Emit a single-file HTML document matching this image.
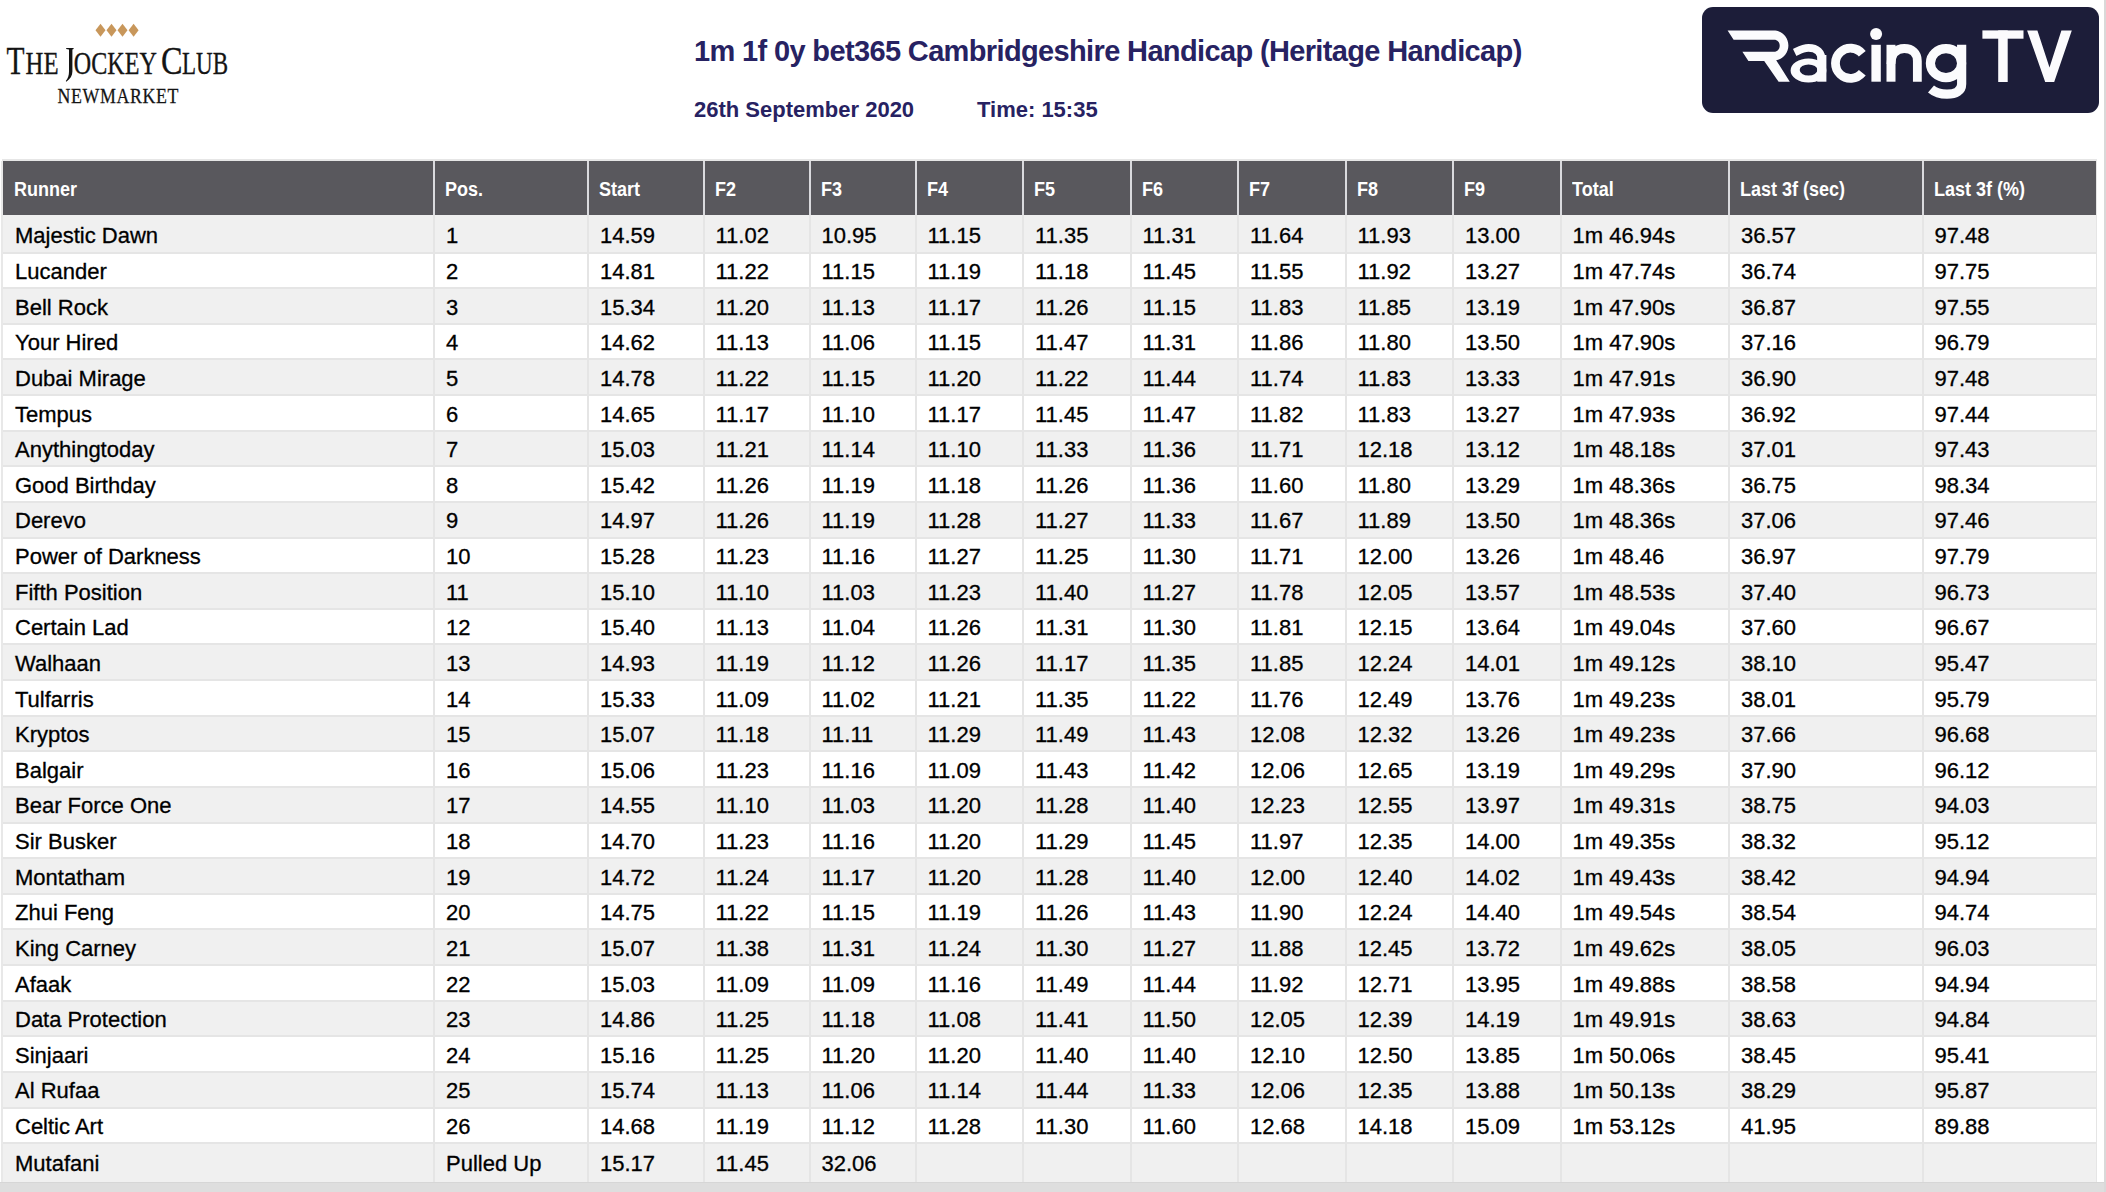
<!DOCTYPE html><html><head><meta charset="utf-8"><title>Sectional Times</title><style>
*{margin:0;padding:0;box-sizing:border-box}
html,body{width:2106px;height:1192px;overflow:hidden;background:#fff}
body{position:relative;font-family:"Liberation Sans",sans-serif;color:#000}
.a{position:absolute}
.hd{position:absolute;top:161px;height:54px;background:#59585d}
.ht{position:absolute;top:0px;color:#fff;font-weight:bold;font-size:20px;line-height:20px;white-space:nowrap;transform:scaleX(0.9);transform-origin:0 0}
.row{position:absolute;left:3px;width:2093px}
.g{background:#f0f0f0}
.w{background:#fff}
.hl{position:absolute;left:3px;width:2093px;height:2px;background:#e5e5e5}
.vl{position:absolute;width:2px;background:#e5e5e5}
.vh{position:absolute;width:2px;background:#ececec}
.c{position:absolute;font-size:22px;line-height:22px;white-space:nowrap;-webkit-text-stroke:0.3px #000}
</style></head><body>
<div class="hd" style="left:3.0px;width:430.0px"></div>
<div class="ht" style="left:14.4px;top:179px">Runner</div>
<div class="hd" style="left:435.0px;width:152.0px"></div>
<div class="ht" style="left:445.4px;top:179px">Pos.</div>
<div class="hd" style="left:589.0px;width:113.5px"></div>
<div class="ht" style="left:599.4px;top:179px">Start</div>
<div class="hd" style="left:704.5px;width:104.0px"></div>
<div class="ht" style="left:714.9px;top:179px">F2</div>
<div class="hd" style="left:810.5px;width:104.0px"></div>
<div class="ht" style="left:820.9px;top:179px">F3</div>
<div class="hd" style="left:916.5px;width:105.5px"></div>
<div class="ht" style="left:926.9px;top:179px">F4</div>
<div class="hd" style="left:1024.0px;width:105.5px"></div>
<div class="ht" style="left:1034.4px;top:179px">F5</div>
<div class="hd" style="left:1131.5px;width:105.5px"></div>
<div class="ht" style="left:1141.9px;top:179px">F6</div>
<div class="hd" style="left:1239.0px;width:105.5px"></div>
<div class="ht" style="left:1249.4px;top:179px">F7</div>
<div class="hd" style="left:1346.5px;width:105.5px"></div>
<div class="ht" style="left:1356.9px;top:179px">F8</div>
<div class="hd" style="left:1454.0px;width:105.5px"></div>
<div class="ht" style="left:1464.4px;top:179px">F9</div>
<div class="hd" style="left:1561.5px;width:166.5px"></div>
<div class="ht" style="left:1571.9px;top:179px">Total</div>
<div class="hd" style="left:1730.0px;width:191.5px"></div>
<div class="ht" style="left:1740.4px;top:179px">Last 3f (sec)</div>
<div class="hd" style="left:1923.5px;width:172.5px"></div>
<div class="ht" style="left:1933.9px;top:179px">Last 3f (%)</div>
<div class="a" style="left:2.0px;top:159px;width:2095.0px;height:2px;background:#e6e6e6"></div>
<div class="a" style="left:433.0px;top:161px;width:2px;height:54px;background:#dadade"></div>
<div class="a" style="left:587.0px;top:161px;width:2px;height:54px;background:#dadade"></div>
<div class="a" style="left:702.5px;top:161px;width:2px;height:54px;background:#dadade"></div>
<div class="a" style="left:808.5px;top:161px;width:2px;height:54px;background:#dadade"></div>
<div class="a" style="left:914.5px;top:161px;width:2px;height:54px;background:#dadade"></div>
<div class="a" style="left:1022.0px;top:161px;width:2px;height:54px;background:#dadade"></div>
<div class="a" style="left:1129.5px;top:161px;width:2px;height:54px;background:#dadade"></div>
<div class="a" style="left:1237.0px;top:161px;width:2px;height:54px;background:#dadade"></div>
<div class="a" style="left:1344.5px;top:161px;width:2px;height:54px;background:#dadade"></div>
<div class="a" style="left:1452.0px;top:161px;width:2px;height:54px;background:#dadade"></div>
<div class="a" style="left:1559.5px;top:161px;width:2px;height:54px;background:#dadade"></div>
<div class="a" style="left:1728.0px;top:161px;width:2px;height:54px;background:#dadade"></div>
<div class="a" style="left:1921.5px;top:161px;width:2px;height:54px;background:#dadade"></div>
<div class="row g" style="top:215.00px;height:37.50px"></div>
<div class="c" style="left:15.0px;top:225.00px">Majestic Dawn</div>
<div class="c" style="left:446.0px;top:225.00px">1</div>
<div class="c" style="left:600.0px;top:225.00px">14.59</div>
<div class="c" style="left:715.5px;top:225.00px">11.02</div>
<div class="c" style="left:821.5px;top:225.00px">10.95</div>
<div class="c" style="left:927.5px;top:225.00px">11.15</div>
<div class="c" style="left:1035.0px;top:225.00px">11.35</div>
<div class="c" style="left:1142.5px;top:225.00px">11.31</div>
<div class="c" style="left:1250.0px;top:225.00px">11.64</div>
<div class="c" style="left:1357.5px;top:225.00px">11.93</div>
<div class="c" style="left:1465.0px;top:225.00px">13.00</div>
<div class="c" style="left:1572.5px;top:225.00px">1m 46.94s</div>
<div class="c" style="left:1741.0px;top:225.00px">36.57</div>
<div class="c" style="left:1934.5px;top:225.00px">97.48</div>
<div class="row w" style="top:252.50px;height:35.63px"></div>
<div class="hl" style="top:251.50px"></div>
<div class="c" style="left:15.0px;top:261.00px">Lucander</div>
<div class="c" style="left:446.0px;top:261.00px">2</div>
<div class="c" style="left:600.0px;top:261.00px">14.81</div>
<div class="c" style="left:715.5px;top:261.00px">11.22</div>
<div class="c" style="left:821.5px;top:261.00px">11.15</div>
<div class="c" style="left:927.5px;top:261.00px">11.19</div>
<div class="c" style="left:1035.0px;top:261.00px">11.18</div>
<div class="c" style="left:1142.5px;top:261.00px">11.45</div>
<div class="c" style="left:1250.0px;top:261.00px">11.55</div>
<div class="c" style="left:1357.5px;top:261.00px">11.92</div>
<div class="c" style="left:1465.0px;top:261.00px">13.27</div>
<div class="c" style="left:1572.5px;top:261.00px">1m 47.74s</div>
<div class="c" style="left:1741.0px;top:261.00px">36.74</div>
<div class="c" style="left:1934.5px;top:261.00px">97.75</div>
<div class="row g" style="top:288.13px;height:35.63px"></div>
<div class="hl" style="top:287.13px"></div>
<div class="c" style="left:15.0px;top:296.63px">Bell Rock</div>
<div class="c" style="left:446.0px;top:296.63px">3</div>
<div class="c" style="left:600.0px;top:296.63px">15.34</div>
<div class="c" style="left:715.5px;top:296.63px">11.20</div>
<div class="c" style="left:821.5px;top:296.63px">11.13</div>
<div class="c" style="left:927.5px;top:296.63px">11.17</div>
<div class="c" style="left:1035.0px;top:296.63px">11.26</div>
<div class="c" style="left:1142.5px;top:296.63px">11.15</div>
<div class="c" style="left:1250.0px;top:296.63px">11.83</div>
<div class="c" style="left:1357.5px;top:296.63px">11.85</div>
<div class="c" style="left:1465.0px;top:296.63px">13.19</div>
<div class="c" style="left:1572.5px;top:296.63px">1m 47.90s</div>
<div class="c" style="left:1741.0px;top:296.63px">36.87</div>
<div class="c" style="left:1934.5px;top:296.63px">97.55</div>
<div class="row w" style="top:323.76px;height:35.63px"></div>
<div class="hl" style="top:322.76px"></div>
<div class="c" style="left:15.0px;top:332.26px">Your Hired</div>
<div class="c" style="left:446.0px;top:332.26px">4</div>
<div class="c" style="left:600.0px;top:332.26px">14.62</div>
<div class="c" style="left:715.5px;top:332.26px">11.13</div>
<div class="c" style="left:821.5px;top:332.26px">11.06</div>
<div class="c" style="left:927.5px;top:332.26px">11.15</div>
<div class="c" style="left:1035.0px;top:332.26px">11.47</div>
<div class="c" style="left:1142.5px;top:332.26px">11.31</div>
<div class="c" style="left:1250.0px;top:332.26px">11.86</div>
<div class="c" style="left:1357.5px;top:332.26px">11.80</div>
<div class="c" style="left:1465.0px;top:332.26px">13.50</div>
<div class="c" style="left:1572.5px;top:332.26px">1m 47.90s</div>
<div class="c" style="left:1741.0px;top:332.26px">37.16</div>
<div class="c" style="left:1934.5px;top:332.26px">96.79</div>
<div class="row g" style="top:359.39px;height:35.63px"></div>
<div class="hl" style="top:358.39px"></div>
<div class="c" style="left:15.0px;top:367.89px">Dubai Mirage</div>
<div class="c" style="left:446.0px;top:367.89px">5</div>
<div class="c" style="left:600.0px;top:367.89px">14.78</div>
<div class="c" style="left:715.5px;top:367.89px">11.22</div>
<div class="c" style="left:821.5px;top:367.89px">11.15</div>
<div class="c" style="left:927.5px;top:367.89px">11.20</div>
<div class="c" style="left:1035.0px;top:367.89px">11.22</div>
<div class="c" style="left:1142.5px;top:367.89px">11.44</div>
<div class="c" style="left:1250.0px;top:367.89px">11.74</div>
<div class="c" style="left:1357.5px;top:367.89px">11.83</div>
<div class="c" style="left:1465.0px;top:367.89px">13.33</div>
<div class="c" style="left:1572.5px;top:367.89px">1m 47.91s</div>
<div class="c" style="left:1741.0px;top:367.89px">36.90</div>
<div class="c" style="left:1934.5px;top:367.89px">97.48</div>
<div class="row w" style="top:395.02px;height:35.63px"></div>
<div class="hl" style="top:394.02px"></div>
<div class="c" style="left:15.0px;top:403.52px">Tempus</div>
<div class="c" style="left:446.0px;top:403.52px">6</div>
<div class="c" style="left:600.0px;top:403.52px">14.65</div>
<div class="c" style="left:715.5px;top:403.52px">11.17</div>
<div class="c" style="left:821.5px;top:403.52px">11.10</div>
<div class="c" style="left:927.5px;top:403.52px">11.17</div>
<div class="c" style="left:1035.0px;top:403.52px">11.45</div>
<div class="c" style="left:1142.5px;top:403.52px">11.47</div>
<div class="c" style="left:1250.0px;top:403.52px">11.82</div>
<div class="c" style="left:1357.5px;top:403.52px">11.83</div>
<div class="c" style="left:1465.0px;top:403.52px">13.27</div>
<div class="c" style="left:1572.5px;top:403.52px">1m 47.93s</div>
<div class="c" style="left:1741.0px;top:403.52px">36.92</div>
<div class="c" style="left:1934.5px;top:403.52px">97.44</div>
<div class="row g" style="top:430.65px;height:35.63px"></div>
<div class="hl" style="top:429.65px"></div>
<div class="c" style="left:15.0px;top:439.15px">Anythingtoday</div>
<div class="c" style="left:446.0px;top:439.15px">7</div>
<div class="c" style="left:600.0px;top:439.15px">15.03</div>
<div class="c" style="left:715.5px;top:439.15px">11.21</div>
<div class="c" style="left:821.5px;top:439.15px">11.14</div>
<div class="c" style="left:927.5px;top:439.15px">11.10</div>
<div class="c" style="left:1035.0px;top:439.15px">11.33</div>
<div class="c" style="left:1142.5px;top:439.15px">11.36</div>
<div class="c" style="left:1250.0px;top:439.15px">11.71</div>
<div class="c" style="left:1357.5px;top:439.15px">12.18</div>
<div class="c" style="left:1465.0px;top:439.15px">13.12</div>
<div class="c" style="left:1572.5px;top:439.15px">1m 48.18s</div>
<div class="c" style="left:1741.0px;top:439.15px">37.01</div>
<div class="c" style="left:1934.5px;top:439.15px">97.43</div>
<div class="row w" style="top:466.28px;height:35.63px"></div>
<div class="hl" style="top:465.28px"></div>
<div class="c" style="left:15.0px;top:474.78px">Good Birthday</div>
<div class="c" style="left:446.0px;top:474.78px">8</div>
<div class="c" style="left:600.0px;top:474.78px">15.42</div>
<div class="c" style="left:715.5px;top:474.78px">11.26</div>
<div class="c" style="left:821.5px;top:474.78px">11.19</div>
<div class="c" style="left:927.5px;top:474.78px">11.18</div>
<div class="c" style="left:1035.0px;top:474.78px">11.26</div>
<div class="c" style="left:1142.5px;top:474.78px">11.36</div>
<div class="c" style="left:1250.0px;top:474.78px">11.60</div>
<div class="c" style="left:1357.5px;top:474.78px">11.80</div>
<div class="c" style="left:1465.0px;top:474.78px">13.29</div>
<div class="c" style="left:1572.5px;top:474.78px">1m 48.36s</div>
<div class="c" style="left:1741.0px;top:474.78px">36.75</div>
<div class="c" style="left:1934.5px;top:474.78px">98.34</div>
<div class="row g" style="top:501.91px;height:35.63px"></div>
<div class="hl" style="top:500.91px"></div>
<div class="c" style="left:15.0px;top:510.41px">Derevo</div>
<div class="c" style="left:446.0px;top:510.41px">9</div>
<div class="c" style="left:600.0px;top:510.41px">14.97</div>
<div class="c" style="left:715.5px;top:510.41px">11.26</div>
<div class="c" style="left:821.5px;top:510.41px">11.19</div>
<div class="c" style="left:927.5px;top:510.41px">11.28</div>
<div class="c" style="left:1035.0px;top:510.41px">11.27</div>
<div class="c" style="left:1142.5px;top:510.41px">11.33</div>
<div class="c" style="left:1250.0px;top:510.41px">11.67</div>
<div class="c" style="left:1357.5px;top:510.41px">11.89</div>
<div class="c" style="left:1465.0px;top:510.41px">13.50</div>
<div class="c" style="left:1572.5px;top:510.41px">1m 48.36s</div>
<div class="c" style="left:1741.0px;top:510.41px">37.06</div>
<div class="c" style="left:1934.5px;top:510.41px">97.46</div>
<div class="row w" style="top:537.54px;height:35.63px"></div>
<div class="hl" style="top:536.54px"></div>
<div class="c" style="left:15.0px;top:546.04px">Power of Darkness</div>
<div class="c" style="left:446.0px;top:546.04px">10</div>
<div class="c" style="left:600.0px;top:546.04px">15.28</div>
<div class="c" style="left:715.5px;top:546.04px">11.23</div>
<div class="c" style="left:821.5px;top:546.04px">11.16</div>
<div class="c" style="left:927.5px;top:546.04px">11.27</div>
<div class="c" style="left:1035.0px;top:546.04px">11.25</div>
<div class="c" style="left:1142.5px;top:546.04px">11.30</div>
<div class="c" style="left:1250.0px;top:546.04px">11.71</div>
<div class="c" style="left:1357.5px;top:546.04px">12.00</div>
<div class="c" style="left:1465.0px;top:546.04px">13.26</div>
<div class="c" style="left:1572.5px;top:546.04px">1m 48.46</div>
<div class="c" style="left:1741.0px;top:546.04px">36.97</div>
<div class="c" style="left:1934.5px;top:546.04px">97.79</div>
<div class="row g" style="top:573.17px;height:35.63px"></div>
<div class="hl" style="top:572.17px"></div>
<div class="c" style="left:15.0px;top:581.67px">Fifth Position</div>
<div class="c" style="left:446.0px;top:581.67px">11</div>
<div class="c" style="left:600.0px;top:581.67px">15.10</div>
<div class="c" style="left:715.5px;top:581.67px">11.10</div>
<div class="c" style="left:821.5px;top:581.67px">11.03</div>
<div class="c" style="left:927.5px;top:581.67px">11.23</div>
<div class="c" style="left:1035.0px;top:581.67px">11.40</div>
<div class="c" style="left:1142.5px;top:581.67px">11.27</div>
<div class="c" style="left:1250.0px;top:581.67px">11.78</div>
<div class="c" style="left:1357.5px;top:581.67px">12.05</div>
<div class="c" style="left:1465.0px;top:581.67px">13.57</div>
<div class="c" style="left:1572.5px;top:581.67px">1m 48.53s</div>
<div class="c" style="left:1741.0px;top:581.67px">37.40</div>
<div class="c" style="left:1934.5px;top:581.67px">96.73</div>
<div class="row w" style="top:608.80px;height:35.63px"></div>
<div class="hl" style="top:607.80px"></div>
<div class="c" style="left:15.0px;top:617.30px">Certain Lad</div>
<div class="c" style="left:446.0px;top:617.30px">12</div>
<div class="c" style="left:600.0px;top:617.30px">15.40</div>
<div class="c" style="left:715.5px;top:617.30px">11.13</div>
<div class="c" style="left:821.5px;top:617.30px">11.04</div>
<div class="c" style="left:927.5px;top:617.30px">11.26</div>
<div class="c" style="left:1035.0px;top:617.30px">11.31</div>
<div class="c" style="left:1142.5px;top:617.30px">11.30</div>
<div class="c" style="left:1250.0px;top:617.30px">11.81</div>
<div class="c" style="left:1357.5px;top:617.30px">12.15</div>
<div class="c" style="left:1465.0px;top:617.30px">13.64</div>
<div class="c" style="left:1572.5px;top:617.30px">1m 49.04s</div>
<div class="c" style="left:1741.0px;top:617.30px">37.60</div>
<div class="c" style="left:1934.5px;top:617.30px">96.67</div>
<div class="row g" style="top:644.43px;height:35.63px"></div>
<div class="hl" style="top:643.43px"></div>
<div class="c" style="left:15.0px;top:652.93px">Walhaan</div>
<div class="c" style="left:446.0px;top:652.93px">13</div>
<div class="c" style="left:600.0px;top:652.93px">14.93</div>
<div class="c" style="left:715.5px;top:652.93px">11.19</div>
<div class="c" style="left:821.5px;top:652.93px">11.12</div>
<div class="c" style="left:927.5px;top:652.93px">11.26</div>
<div class="c" style="left:1035.0px;top:652.93px">11.17</div>
<div class="c" style="left:1142.5px;top:652.93px">11.35</div>
<div class="c" style="left:1250.0px;top:652.93px">11.85</div>
<div class="c" style="left:1357.5px;top:652.93px">12.24</div>
<div class="c" style="left:1465.0px;top:652.93px">14.01</div>
<div class="c" style="left:1572.5px;top:652.93px">1m 49.12s</div>
<div class="c" style="left:1741.0px;top:652.93px">38.10</div>
<div class="c" style="left:1934.5px;top:652.93px">95.47</div>
<div class="row w" style="top:680.06px;height:35.63px"></div>
<div class="hl" style="top:679.06px"></div>
<div class="c" style="left:15.0px;top:688.56px">Tulfarris</div>
<div class="c" style="left:446.0px;top:688.56px">14</div>
<div class="c" style="left:600.0px;top:688.56px">15.33</div>
<div class="c" style="left:715.5px;top:688.56px">11.09</div>
<div class="c" style="left:821.5px;top:688.56px">11.02</div>
<div class="c" style="left:927.5px;top:688.56px">11.21</div>
<div class="c" style="left:1035.0px;top:688.56px">11.35</div>
<div class="c" style="left:1142.5px;top:688.56px">11.22</div>
<div class="c" style="left:1250.0px;top:688.56px">11.76</div>
<div class="c" style="left:1357.5px;top:688.56px">12.49</div>
<div class="c" style="left:1465.0px;top:688.56px">13.76</div>
<div class="c" style="left:1572.5px;top:688.56px">1m 49.23s</div>
<div class="c" style="left:1741.0px;top:688.56px">38.01</div>
<div class="c" style="left:1934.5px;top:688.56px">95.79</div>
<div class="row g" style="top:715.69px;height:35.63px"></div>
<div class="hl" style="top:714.69px"></div>
<div class="c" style="left:15.0px;top:724.19px">Kryptos</div>
<div class="c" style="left:446.0px;top:724.19px">15</div>
<div class="c" style="left:600.0px;top:724.19px">15.07</div>
<div class="c" style="left:715.5px;top:724.19px">11.18</div>
<div class="c" style="left:821.5px;top:724.19px">11.11</div>
<div class="c" style="left:927.5px;top:724.19px">11.29</div>
<div class="c" style="left:1035.0px;top:724.19px">11.49</div>
<div class="c" style="left:1142.5px;top:724.19px">11.43</div>
<div class="c" style="left:1250.0px;top:724.19px">12.08</div>
<div class="c" style="left:1357.5px;top:724.19px">12.32</div>
<div class="c" style="left:1465.0px;top:724.19px">13.26</div>
<div class="c" style="left:1572.5px;top:724.19px">1m 49.23s</div>
<div class="c" style="left:1741.0px;top:724.19px">37.66</div>
<div class="c" style="left:1934.5px;top:724.19px">96.68</div>
<div class="row w" style="top:751.32px;height:35.63px"></div>
<div class="hl" style="top:750.32px"></div>
<div class="c" style="left:15.0px;top:759.82px">Balgair</div>
<div class="c" style="left:446.0px;top:759.82px">16</div>
<div class="c" style="left:600.0px;top:759.82px">15.06</div>
<div class="c" style="left:715.5px;top:759.82px">11.23</div>
<div class="c" style="left:821.5px;top:759.82px">11.16</div>
<div class="c" style="left:927.5px;top:759.82px">11.09</div>
<div class="c" style="left:1035.0px;top:759.82px">11.43</div>
<div class="c" style="left:1142.5px;top:759.82px">11.42</div>
<div class="c" style="left:1250.0px;top:759.82px">12.06</div>
<div class="c" style="left:1357.5px;top:759.82px">12.65</div>
<div class="c" style="left:1465.0px;top:759.82px">13.19</div>
<div class="c" style="left:1572.5px;top:759.82px">1m 49.29s</div>
<div class="c" style="left:1741.0px;top:759.82px">37.90</div>
<div class="c" style="left:1934.5px;top:759.82px">96.12</div>
<div class="row g" style="top:786.95px;height:35.63px"></div>
<div class="hl" style="top:785.95px"></div>
<div class="c" style="left:15.0px;top:795.45px">Bear Force One</div>
<div class="c" style="left:446.0px;top:795.45px">17</div>
<div class="c" style="left:600.0px;top:795.45px">14.55</div>
<div class="c" style="left:715.5px;top:795.45px">11.10</div>
<div class="c" style="left:821.5px;top:795.45px">11.03</div>
<div class="c" style="left:927.5px;top:795.45px">11.20</div>
<div class="c" style="left:1035.0px;top:795.45px">11.28</div>
<div class="c" style="left:1142.5px;top:795.45px">11.40</div>
<div class="c" style="left:1250.0px;top:795.45px">12.23</div>
<div class="c" style="left:1357.5px;top:795.45px">12.55</div>
<div class="c" style="left:1465.0px;top:795.45px">13.97</div>
<div class="c" style="left:1572.5px;top:795.45px">1m 49.31s</div>
<div class="c" style="left:1741.0px;top:795.45px">38.75</div>
<div class="c" style="left:1934.5px;top:795.45px">94.03</div>
<div class="row w" style="top:822.58px;height:35.63px"></div>
<div class="hl" style="top:821.58px"></div>
<div class="c" style="left:15.0px;top:831.08px">Sir Busker</div>
<div class="c" style="left:446.0px;top:831.08px">18</div>
<div class="c" style="left:600.0px;top:831.08px">14.70</div>
<div class="c" style="left:715.5px;top:831.08px">11.23</div>
<div class="c" style="left:821.5px;top:831.08px">11.16</div>
<div class="c" style="left:927.5px;top:831.08px">11.20</div>
<div class="c" style="left:1035.0px;top:831.08px">11.29</div>
<div class="c" style="left:1142.5px;top:831.08px">11.45</div>
<div class="c" style="left:1250.0px;top:831.08px">11.97</div>
<div class="c" style="left:1357.5px;top:831.08px">12.35</div>
<div class="c" style="left:1465.0px;top:831.08px">14.00</div>
<div class="c" style="left:1572.5px;top:831.08px">1m 49.35s</div>
<div class="c" style="left:1741.0px;top:831.08px">38.32</div>
<div class="c" style="left:1934.5px;top:831.08px">95.12</div>
<div class="row g" style="top:858.21px;height:35.63px"></div>
<div class="hl" style="top:857.21px"></div>
<div class="c" style="left:15.0px;top:866.71px">Montatham</div>
<div class="c" style="left:446.0px;top:866.71px">19</div>
<div class="c" style="left:600.0px;top:866.71px">14.72</div>
<div class="c" style="left:715.5px;top:866.71px">11.24</div>
<div class="c" style="left:821.5px;top:866.71px">11.17</div>
<div class="c" style="left:927.5px;top:866.71px">11.20</div>
<div class="c" style="left:1035.0px;top:866.71px">11.28</div>
<div class="c" style="left:1142.5px;top:866.71px">11.40</div>
<div class="c" style="left:1250.0px;top:866.71px">12.00</div>
<div class="c" style="left:1357.5px;top:866.71px">12.40</div>
<div class="c" style="left:1465.0px;top:866.71px">14.02</div>
<div class="c" style="left:1572.5px;top:866.71px">1m 49.43s</div>
<div class="c" style="left:1741.0px;top:866.71px">38.42</div>
<div class="c" style="left:1934.5px;top:866.71px">94.94</div>
<div class="row w" style="top:893.84px;height:35.63px"></div>
<div class="hl" style="top:892.84px"></div>
<div class="c" style="left:15.0px;top:902.34px">Zhui Feng</div>
<div class="c" style="left:446.0px;top:902.34px">20</div>
<div class="c" style="left:600.0px;top:902.34px">14.75</div>
<div class="c" style="left:715.5px;top:902.34px">11.22</div>
<div class="c" style="left:821.5px;top:902.34px">11.15</div>
<div class="c" style="left:927.5px;top:902.34px">11.19</div>
<div class="c" style="left:1035.0px;top:902.34px">11.26</div>
<div class="c" style="left:1142.5px;top:902.34px">11.43</div>
<div class="c" style="left:1250.0px;top:902.34px">11.90</div>
<div class="c" style="left:1357.5px;top:902.34px">12.24</div>
<div class="c" style="left:1465.0px;top:902.34px">14.40</div>
<div class="c" style="left:1572.5px;top:902.34px">1m 49.54s</div>
<div class="c" style="left:1741.0px;top:902.34px">38.54</div>
<div class="c" style="left:1934.5px;top:902.34px">94.74</div>
<div class="row g" style="top:929.47px;height:35.63px"></div>
<div class="hl" style="top:928.47px"></div>
<div class="c" style="left:15.0px;top:937.97px">King Carney</div>
<div class="c" style="left:446.0px;top:937.97px">21</div>
<div class="c" style="left:600.0px;top:937.97px">15.07</div>
<div class="c" style="left:715.5px;top:937.97px">11.38</div>
<div class="c" style="left:821.5px;top:937.97px">11.31</div>
<div class="c" style="left:927.5px;top:937.97px">11.24</div>
<div class="c" style="left:1035.0px;top:937.97px">11.30</div>
<div class="c" style="left:1142.5px;top:937.97px">11.27</div>
<div class="c" style="left:1250.0px;top:937.97px">11.88</div>
<div class="c" style="left:1357.5px;top:937.97px">12.45</div>
<div class="c" style="left:1465.0px;top:937.97px">13.72</div>
<div class="c" style="left:1572.5px;top:937.97px">1m 49.62s</div>
<div class="c" style="left:1741.0px;top:937.97px">38.05</div>
<div class="c" style="left:1934.5px;top:937.97px">96.03</div>
<div class="row w" style="top:965.10px;height:35.63px"></div>
<div class="hl" style="top:964.10px"></div>
<div class="c" style="left:15.0px;top:973.60px">Afaak</div>
<div class="c" style="left:446.0px;top:973.60px">22</div>
<div class="c" style="left:600.0px;top:973.60px">15.03</div>
<div class="c" style="left:715.5px;top:973.60px">11.09</div>
<div class="c" style="left:821.5px;top:973.60px">11.09</div>
<div class="c" style="left:927.5px;top:973.60px">11.16</div>
<div class="c" style="left:1035.0px;top:973.60px">11.49</div>
<div class="c" style="left:1142.5px;top:973.60px">11.44</div>
<div class="c" style="left:1250.0px;top:973.60px">11.92</div>
<div class="c" style="left:1357.5px;top:973.60px">12.71</div>
<div class="c" style="left:1465.0px;top:973.60px">13.95</div>
<div class="c" style="left:1572.5px;top:973.60px">1m 49.88s</div>
<div class="c" style="left:1741.0px;top:973.60px">38.58</div>
<div class="c" style="left:1934.5px;top:973.60px">94.94</div>
<div class="row g" style="top:1000.73px;height:35.63px"></div>
<div class="hl" style="top:999.73px"></div>
<div class="c" style="left:15.0px;top:1009.23px">Data Protection</div>
<div class="c" style="left:446.0px;top:1009.23px">23</div>
<div class="c" style="left:600.0px;top:1009.23px">14.86</div>
<div class="c" style="left:715.5px;top:1009.23px">11.25</div>
<div class="c" style="left:821.5px;top:1009.23px">11.18</div>
<div class="c" style="left:927.5px;top:1009.23px">11.08</div>
<div class="c" style="left:1035.0px;top:1009.23px">11.41</div>
<div class="c" style="left:1142.5px;top:1009.23px">11.50</div>
<div class="c" style="left:1250.0px;top:1009.23px">12.05</div>
<div class="c" style="left:1357.5px;top:1009.23px">12.39</div>
<div class="c" style="left:1465.0px;top:1009.23px">14.19</div>
<div class="c" style="left:1572.5px;top:1009.23px">1m 49.91s</div>
<div class="c" style="left:1741.0px;top:1009.23px">38.63</div>
<div class="c" style="left:1934.5px;top:1009.23px">94.84</div>
<div class="row w" style="top:1036.36px;height:35.63px"></div>
<div class="hl" style="top:1035.36px"></div>
<div class="c" style="left:15.0px;top:1044.86px">Sinjaari</div>
<div class="c" style="left:446.0px;top:1044.86px">24</div>
<div class="c" style="left:600.0px;top:1044.86px">15.16</div>
<div class="c" style="left:715.5px;top:1044.86px">11.25</div>
<div class="c" style="left:821.5px;top:1044.86px">11.20</div>
<div class="c" style="left:927.5px;top:1044.86px">11.20</div>
<div class="c" style="left:1035.0px;top:1044.86px">11.40</div>
<div class="c" style="left:1142.5px;top:1044.86px">11.40</div>
<div class="c" style="left:1250.0px;top:1044.86px">12.10</div>
<div class="c" style="left:1357.5px;top:1044.86px">12.50</div>
<div class="c" style="left:1465.0px;top:1044.86px">13.85</div>
<div class="c" style="left:1572.5px;top:1044.86px">1m 50.06s</div>
<div class="c" style="left:1741.0px;top:1044.86px">38.45</div>
<div class="c" style="left:1934.5px;top:1044.86px">95.41</div>
<div class="row g" style="top:1071.99px;height:35.63px"></div>
<div class="hl" style="top:1070.99px"></div>
<div class="c" style="left:15.0px;top:1080.49px">Al Rufaa</div>
<div class="c" style="left:446.0px;top:1080.49px">25</div>
<div class="c" style="left:600.0px;top:1080.49px">15.74</div>
<div class="c" style="left:715.5px;top:1080.49px">11.13</div>
<div class="c" style="left:821.5px;top:1080.49px">11.06</div>
<div class="c" style="left:927.5px;top:1080.49px">11.14</div>
<div class="c" style="left:1035.0px;top:1080.49px">11.44</div>
<div class="c" style="left:1142.5px;top:1080.49px">11.33</div>
<div class="c" style="left:1250.0px;top:1080.49px">12.06</div>
<div class="c" style="left:1357.5px;top:1080.49px">12.35</div>
<div class="c" style="left:1465.0px;top:1080.49px">13.88</div>
<div class="c" style="left:1572.5px;top:1080.49px">1m 50.13s</div>
<div class="c" style="left:1741.0px;top:1080.49px">38.29</div>
<div class="c" style="left:1934.5px;top:1080.49px">95.87</div>
<div class="row w" style="top:1107.62px;height:35.63px"></div>
<div class="hl" style="top:1106.62px"></div>
<div class="c" style="left:15.0px;top:1116.12px">Celtic Art</div>
<div class="c" style="left:446.0px;top:1116.12px">26</div>
<div class="c" style="left:600.0px;top:1116.12px">14.68</div>
<div class="c" style="left:715.5px;top:1116.12px">11.19</div>
<div class="c" style="left:821.5px;top:1116.12px">11.12</div>
<div class="c" style="left:927.5px;top:1116.12px">11.28</div>
<div class="c" style="left:1035.0px;top:1116.12px">11.30</div>
<div class="c" style="left:1142.5px;top:1116.12px">11.60</div>
<div class="c" style="left:1250.0px;top:1116.12px">12.68</div>
<div class="c" style="left:1357.5px;top:1116.12px">14.18</div>
<div class="c" style="left:1465.0px;top:1116.12px">15.09</div>
<div class="c" style="left:1572.5px;top:1116.12px">1m 53.12s</div>
<div class="c" style="left:1741.0px;top:1116.12px">41.95</div>
<div class="c" style="left:1934.5px;top:1116.12px">89.88</div>
<div class="row g" style="top:1143.25px;height:38.75px"></div>
<div class="hl" style="top:1142.25px"></div>
<div class="c" style="left:15.0px;top:1152.75px">Mutafani</div>
<div class="c" style="left:446.0px;top:1152.75px">Pulled Up</div>
<div class="c" style="left:600.0px;top:1152.75px">15.17</div>
<div class="c" style="left:715.5px;top:1152.75px">11.45</div>
<div class="c" style="left:821.5px;top:1152.75px">32.06</div>
<div class="vl" style="left:433.0px;top:215px;height:967px"></div>
<div class="vl" style="left:587.0px;top:215px;height:967px"></div>
<div class="vl" style="left:702.5px;top:215px;height:967px"></div>
<div class="vl" style="left:808.5px;top:215px;height:967px"></div>
<div class="vl" style="left:914.5px;top:215px;height:967px"></div>
<div class="vl" style="left:1022.0px;top:215px;height:967px"></div>
<div class="vl" style="left:1129.5px;top:215px;height:967px"></div>
<div class="vl" style="left:1237.0px;top:215px;height:967px"></div>
<div class="vl" style="left:1344.5px;top:215px;height:967px"></div>
<div class="vl" style="left:1452.0px;top:215px;height:967px"></div>
<div class="vl" style="left:1559.5px;top:215px;height:967px"></div>
<div class="vl" style="left:1728.0px;top:215px;height:967px"></div>
<div class="vl" style="left:1921.5px;top:215px;height:967px"></div>
<div class="vl" style="left:2096.0px;top:161px;height:1021px;width:1px"></div>
<div class="a" style="left:1px;top:161px;height:1021px;width:2px;background:#e8e8e8"></div>
<div class="a" style="left:0;top:1182px;width:2106px;height:1px;background:#d6d6d6"></div>
<div class="a" style="left:0;top:1183px;width:2106px;height:9px;background:#dedede"></div>
<div class="a" style="left:2104px;top:0;width:2px;height:1192px;background:#d9d9d9"></div>
<div class="a" style="left:694px;top:34px;font-size:29px;line-height:34px;font-weight:bold;color:#272262;white-space:nowrap;letter-spacing:-0.64px">1m 1f 0y bet365 Cambridgeshire Handicap (Heritage Handicap)</div>
<div class="a" style="left:694px;top:97px;font-size:22px;line-height:26px;font-weight:bold;color:#272262;white-space:nowrap">26th September 2020</div>
<div class="a" style="left:977px;top:97px;font-size:22px;line-height:26px;font-weight:bold;color:#272262;white-space:nowrap">Time: 15:35</div>
<svg class="a" style="left:0;top:0" width="240" height="115" viewBox="0 0 240 115">
<g fill="#c8975b">
<path d="M100.5 23.8 L105.5 30.3 L100.5 36.8 L95.5 30.3Z"/>
<path d="M111.5 23.8 L116.5 30.3 L111.5 36.8 L106.5 30.3Z"/>
<path d="M122.5 23.8 L127.5 30.3 L122.5 36.8 L117.5 30.3Z"/>
<path d="M133.6 23.8 L138.6 30.3 L133.6 36.8 L128.6 30.3Z"/>
</g>
<g font-family="Liberation Serif" fill="#141414" stroke="#141414" stroke-width="0.35">
<text x="6.6" y="73.6" font-size="39.5" textLength="18" lengthAdjust="spacingAndGlyphs">T</text>
<text x="25.6" y="73.6" font-size="32.5" textLength="33" lengthAdjust="spacingAndGlyphs">HE</text>
<path stroke="none" d="M66.2 48.1 H73.6 V48.9 L72.4 49.4 V71.5 C72.4 75.5 70.2 79.2 66.3 81.7 L65.8 81.1 C68 78.5 69 75.5 69 71.5 V49.4 L66.2 48.9 Z"/>
<text x="73.8" y="73.6" font-size="32.5" textLength="83" lengthAdjust="spacingAndGlyphs">OCKEY</text>
<text x="161" y="73.6" font-size="39.5" textLength="21.5" lengthAdjust="spacingAndGlyphs">C</text>
<text x="182" y="73.6" font-size="32.5" textLength="46" lengthAdjust="spacingAndGlyphs">LUB</text>
</g>
<text x="57.5" y="103.3" font-family="Liberation Serif" font-size="20.5" fill="#141414" stroke="#141414" stroke-width="0.25" transform="translate(57.5,0) scale(0.87,1) translate(-57.5,0)" textLength="139" lengthAdjust="spacing">NEWMARKET</text>
</svg>
<div class="a" style="left:1702px;top:7px;width:397px;height:106px;background:#1c1d39;border-radius:11px"></div>
<svg class="a" style="left:1700px;top:0" width="406" height="120" viewBox="1700 0 406 120">
<g fill="#fbfbfd">
<path d="M1727.6 30.5 L1773.4 30.5 C1782 30.5 1788.4 37 1788.4 45.5 C1788.4 53 1783 59 1776.2 60.2 L1789.8 81.7 L1778.6 81.7 L1764.2 61 L1748.4 61 L1742.4 51.7 L1774 51.7 C1777.5 51.7 1779.7 49 1779.7 45.7 C1779.7 42.3 1777.5 39.7 1774 39.7 L1733.6 39.7 Z"/>
<rect x="1817.2" y="55" width="9.2" height="26.7"/>
<path fill-rule="evenodd" d="M1790.6 70.5 A17.9 12 0 1 0 1826.4 70.5 A17.9 12 0 1 0 1790.6 70.5 Z M1799.7 70 A8.85 5.5 0 1 0 1817.4 70 A8.85 5.5 0 1 0 1799.7 70 Z"/>
<rect x="1871.4" y="44.8" width="9.4" height="36.9"/>
<circle cx="1876.1" cy="34.1" r="6"/>
<rect x="1886.5" y="44.8" width="9" height="36.9"/>
<rect x="1982.4" y="30.4" width="41.1" height="8.3"/>
<rect x="1998.2" y="30.4" width="9.5" height="51.6"/>
<path d="M2027.1 30.4 L2037.4 30.4 L2049.5 67.5 L2061.4 30.4 L2071.8 30.4 L2054.2 82 L2045.2 82 Z"/>
</g>
<g fill="none" stroke="#fbfbfd">
<path d="M1794.7 52.5 C1799 50.4 1803 47.85 1808.5 47.85 C1817 47.85 1821.8 52 1821.8 61" stroke-width="7.7"/>

<path d="M1862.3 53.8 A15.1 15.1 0 1 0 1862.3 72.8" stroke-width="8.8"/>
<path d="M1891 64 C1891 53 1897 48.5 1904.3 48.5 C1912 48.5 1917.35 53 1917.35 61 V81.7" stroke-width="8.8"/>
<ellipse cx="1946" cy="63.2" rx="15.6" ry="14.5" stroke-width="9.2"/>
<path d="M1961.65 44.8 V84 C1961.65 91 1956 94.2 1947 94.2 C1940 94.2 1934.5 92 1931 89" stroke-width="9.2"/>
</g>
</svg>
</body></html>
